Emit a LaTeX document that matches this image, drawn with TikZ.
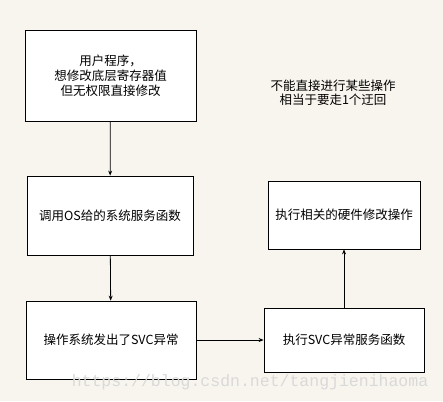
\documentclass[tikz,border=0pt]{standalone}
\usepackage{fontspec}
\newfontfamily\cjk{Noto Sans CJK SC}
\setmonofont{Liberation Mono}
\usetikzlibrary{arrows.meta}
\definecolor{paper}{RGB}{248,245,238}
\tikzset{
  stepbox/.style={draw, thick, fill=white, inner sep=0pt, font=\cjk\fontsize{12.5}{15}\selectfont, align=center},
  flow/.style={thick, -{Stealth[length=5pt,width=4pt]}}
}

\begin{document}
\begin{tikzpicture}[x=1pt, y=-1pt]
\fill[paper] (0,0) rectangle (443,401);
\useasboundingbox (0,0) rectangle (443,401);
\node[stepbox, minimum width=171pt, minimum height=91pt] (user) at (110.5,75.5) {用户程序，\\想修改底层寄存器值\\但无权限直接修改};
\node[stepbox, minimum width=166pt, minimum height=79pt] (call) at (110,215.5) {调用OS给的系统服务函数};
\node[stepbox, minimum width=170pt, minimum height=78pt] (svc) at (111,340) {操作系统发出了SVC异常};
\node[stepbox, minimum width=160pt, minimum height=64pt] (handler) at (344,340) {执行SVC异常服务函数};
\node[stepbox, minimum width=152pt, minimum height=68pt] (hw) at (344,215) {执行相关的硬件修改操作};
\node[font=\cjk\fontsize{12.5}{14}\selectfont, align=center] (note) at (333,93) {不能直接进行某些操作\\相当于要走1个迂回};
\draw[flow] (user) -- (call);
\draw[flow] (call) -- (svc);
\draw[flow] (svc) -- (handler);
\draw[flow] (handler) -- (hw);
\node[font=\ttfamily\fontsize{16.5}{18}\selectfont, text=black!15] (mark) at (250,382) {https://blog.csdn.net/tangjienihaoma};
\end{tikzpicture}
\end{document}
